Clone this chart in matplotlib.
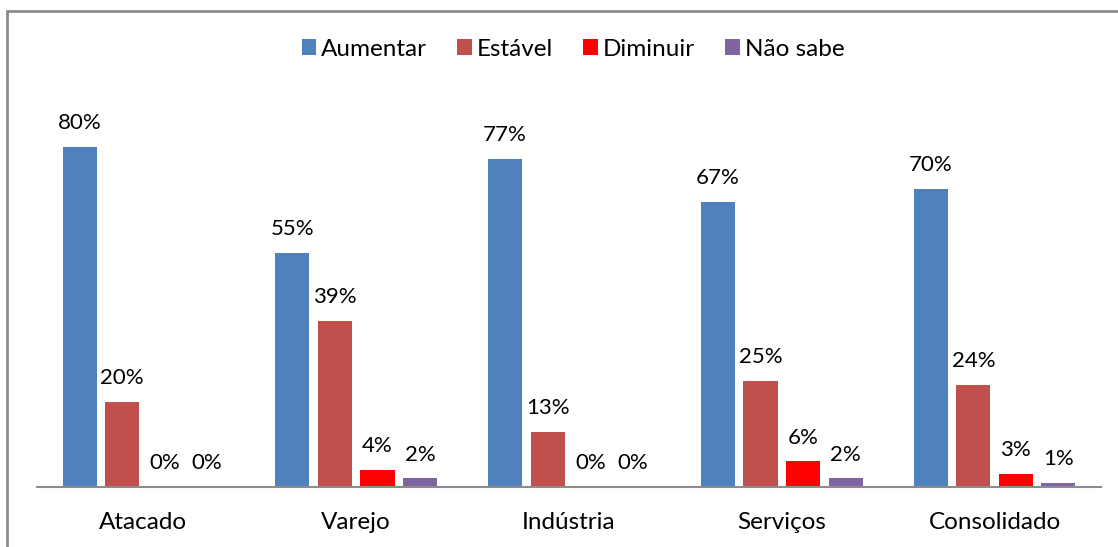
import matplotlib
matplotlib.use("Agg")
import matplotlib.pyplot as plt
import numpy as np
from matplotlib.patches import Rectangle

categories = ["Atacado", "Varejo", "Indústria", "Serviços", "Consolidado"]
series_names = ["Aumentar", "Estável", "Diminuir", "Não sabe"]
aumentar = [80, 55, 77, 67, 70]
estavel = [20, 39, 13, 25, 24]
diminuir = [0, 4, 0, 6, 3]
nao_sabe = [0, 2, 0, 2, 1]
colors = ["#4F81BD", "#C0504D", "#FF0000", "#8064A2"]

plt.rcParams['font.family'] = ['Lato', 'DejaVu Sans']

W, H = 1118, 547
fig = plt.figure(figsize=(W / 100, H / 100), dpi=100)
ax = fig.add_axes([37 / W, (H - 487) / H, (1101 - 37) / W, (487 - 104) / H])

x = np.arange(len(categories))
data = [aumentar, estavel, diminuir, nao_sabe]
width = 0.16
step = 0.2
handles = []
for i, (vals, col, name) in enumerate(zip(data, colors, series_names)):
    pos = x + (i - 1.5) * step
    bars = ax.bar(pos, vals, width=width, color=col, label=name)
    handles.append(bars)
    for p, v in zip(pos, vals):
        ax.annotate(f"{v}%", (p, v), xytext=(0, 10), textcoords="offset points",
                    ha="center", va="bottom", fontsize=16, color="black")

ax.set_xlim(-0.5, 4.5)
ax.set_ylim(0, 90)
ax.set_yticks([])
ax.set_xticks(x)
ax.set_xticklabels(categories, fontsize=17.5)
ax.tick_params(axis="x", length=0, pad=18)
for s in ["top", "right", "left"]:
    ax.spines[s].set_visible(False)
ax.spines["bottom"].set_color("#8c8c8c")
ax.spines["bottom"].set_linewidth(1.5)

leg = fig.legend(handles=handles, labels=series_names, loc="center",
                 bbox_to_anchor=(573 / W, 1 - 49 / H), ncol=4, frameon=False,
                 fontsize=17.5, handlelength=0.6, handleheight=0.6,
                 handletextpad=0.2, columnspacing=1.25)

fig.patches.append(Rectangle((6.5 / W, -0.1), 1.2, 1.1 - 10.5 / H,
                             transform=fig.transFigure, fill=False,
                             edgecolor="#8c8c8c", linewidth=2))

fig.savefig("out.png", dpi=100)
